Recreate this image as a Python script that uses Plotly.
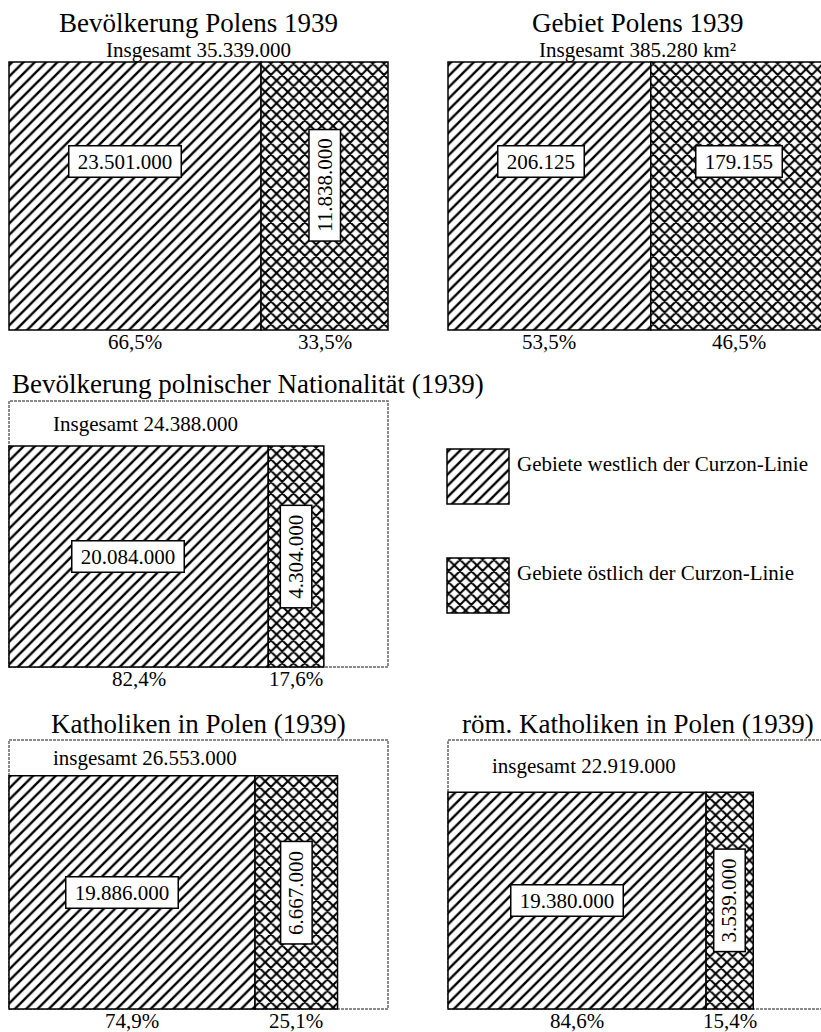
"""
Flächendiagramme: Polen 1939 westlich / östlich der Curzon-Linie
"""
import math
import plotly.graph_objects as go

W, H = 821, 1032
FONT = "Liberation Serif"

# --- Daten ---
titles = [
    "Bevölkerung Polens 1939",
    "Gebiet Polens 1939",
    "Bevölkerung polnischer Nationalität (1939)",
    "Katholiken in Polen (1939)",
    "röm. Katholiken in Polen (1939)",
]
total_words = ["Insgesamt", "Insgesamt", "Insgesamt", "insgesamt", "insgesamt"]
units = ["", " km²", "", "", ""]
west = [23501000, 206125, 20084000, 19886000, 19380000]
east = [11838000, 179155, 4304000, 6667000, 3539000]
# Rahmen = Gesamtbevölkerung (Panel 0), None = kein Rahmen
frame_of = [None, None, 0, 0, 0]
legend_labels = ["Gebiete westlich der Curzon-Linie", "Gebiete östlich der Curzon-Linie"]

# --- Layout (Pixel: links, oben, Breite, Höhe) ---
boxes = [(9, 62, 379, 268), (448, 62, 379, 268), (9, 401, 379, 266),
         (9, 740, 379, 269), (448, 740, 379, 269)]
legend_boxes = [(447, 449, 62, 55), (447, 558, 62, 55)]
PAD = 4

HATCH_W = dict(shape="/", fgcolor="#000000", bgcolor="#ffffff", fgopacity=1,
               size=8, solidity=0.3)
HATCH_E = dict(shape="x", fgcolor="#000000", bgcolor="#ffffff", fgopacity=1,
               size=8, solidity=0.45)


def fmt(n):
    return f"{n:,}".replace(",", ".")


def pct(a, b):
    return f"{100 * a / b:.1f}".replace(".", ",") + "%"


def px(x):
    return x / W


def py(y):
    return 1 - y / H


def axis_setup(fig, n, box):
    """Achsen so legen, dass 0..1 genau auf das Pixel-Rechteck fällt."""
    L, T, w, h = box
    x0, x1 = L - PAD, min(L + w + PAD, W)
    ax = dict(domain=[px(x0), px(x1)], range=[(x0 - L) / w, (x1 - L) / w],
              visible=False, fixedrange=True)
    ay = dict(domain=[py(T + h + PAD), py(T - PAD)], range=[-PAD / h, 1 + PAD / h],
              visible=False, fixedrange=True)
    suffix = "" if n == 1 else str(n)
    if n > 1:
        ax["anchor"] = f"y{n}"
        ay["anchor"] = f"x{n}"
    fig.update_layout(**{f"xaxis{suffix}": ax, f"yaxis{suffix}": ay})
    return ("x" if n == 1 else f"x{n}"), ("y" if n == 1 else f"y{n}")


def box_label(text, x, y, xref, yref, angle=0):
    return dict(text="\u00a0" + text + "\u00a0", x=x, y=y, xref=xref, yref=yref,
                showarrow=False, textangle=angle, bgcolor="white",
                bordercolor="black", borderwidth=1.5, borderpad=3,
                font=dict(family=FONT, size=21, color="black"))


def plain(text, x, y, size=21, xanchor="center", xref="paper", yref="paper"):
    return dict(text=text, x=x, y=y, xref=xref, yref=yref, xanchor=xanchor,
                yanchor="middle", showarrow=False,
                font=dict(family=FONT, size=size, color="black"))


fig = go.Figure()
annotations = []
line = dict(color="black", width=1.5)

for i, box in enumerate(boxes):
    L, T, w, h = box
    xr, yr = axis_setup(fig, i + 1, box)
    total = west[i] + east[i]
    fw = west[i] / total
    if frame_of[i] is None:
        s = 1.0
    else:
        k = frame_of[i]
        s = math.sqrt(total / (west[k] + east[k]))
        fig.add_shape(type="rect", xref=xr, yref=yr, x0=0, x1=1, y0=0, y1=1,
                      line=dict(color="#666", width=1.5, dash="3px,1px"), layer="below")

    fig.add_trace(go.Bar(x=[0], y=[s], width=[s * fw], offset=0, base=0,
                         marker=dict(color="white", opacity=1, pattern=HATCH_W, line=line),
                         xaxis=xr, yaxis=yr, hoverinfo="skip"))
    fig.add_trace(go.Bar(x=[s * fw], y=[s], width=[s * (1 - fw)], offset=0, base=0,
                         marker=dict(color="white", opacity=1, pattern=HATCH_E, line=line),
                         xaxis=xr, yaxis=yr, hoverinfo="skip"))

    # Werte in Kästen
    lev_h, lev_v = (0.63, 0.54) if frame_of[i] is None else (0.5, 0.5)
    annotations.append(box_label(fmt(west[i]), s * fw * 0.46, s * lev_h, xr, yr))
    vertical = i != 1
    annotations.append(box_label(fmt(east[i]), s * fw + s * (1 - fw) / 2,
                                 s * (lev_v if vertical else lev_h), xr, yr,
                                 angle=-90 if vertical else 0))

    # Prozent unter dem Balken
    yb = py(T + h + 12)
    annotations.append(plain(pct(west[i], total), s * fw / 2, yb, xref=xr))
    annotations.append(plain(pct(east[i], total), s * fw + s * (1 - fw) / 2, yb, xref=xr))

    # Titel und Summe
    sub = f"{total_words[i]} {fmt(total)}{units[i]}"
    if frame_of[i] is None:
        annotations.append(plain(titles[i], px(L + w / 2), py(T - 39), size=27))
        annotations.append(plain(sub, px(L + w / 2), py(T - 12)))
    else:
        if i == 2:
            annotations.append(plain(titles[i], px(L + 1), py(T - 17), size=27, xanchor="left"))
        else:
            annotations.append(plain(titles[i], px(L + w / 2), py(T - 16), size=27))
        inner_top = T + h * (1 - s)
        annotations.append(plain(sub, px(L + 0.11 * w), py((T + inner_top) / 2), xanchor="left"))

# Legende
for j, (box, label) in enumerate(zip(legend_boxes, legend_labels)):
    xr, yr = axis_setup(fig, 6 + j, box)
    fig.add_trace(go.Bar(x=[0], y=[1], width=[1], offset=0, base=0,
                         marker=dict(color="white", opacity=1,
                                     pattern=HATCH_W if j == 0 else HATCH_E, line=line),
                         xaxis=xr, yaxis=yr, hoverinfo="skip"))
    L, T, w, h = box
    annotations.append(plain(label, px(L + w + 6), py(T + 15), xanchor="left"))

fig.update_layout(
    width=W, height=H,
    margin=dict(l=0, r=0, t=0, b=0),
    paper_bgcolor="white", plot_bgcolor="white",
    barmode="overlay", showlegend=False,
    annotations=annotations,
)

# Seitenrand des Browsers entfernen, damit das Bild genau 821x1032 füllt
fig.write_html("out.html", config={"displayModeBar": False},
               post_script="document.body.style.margin='0';")
